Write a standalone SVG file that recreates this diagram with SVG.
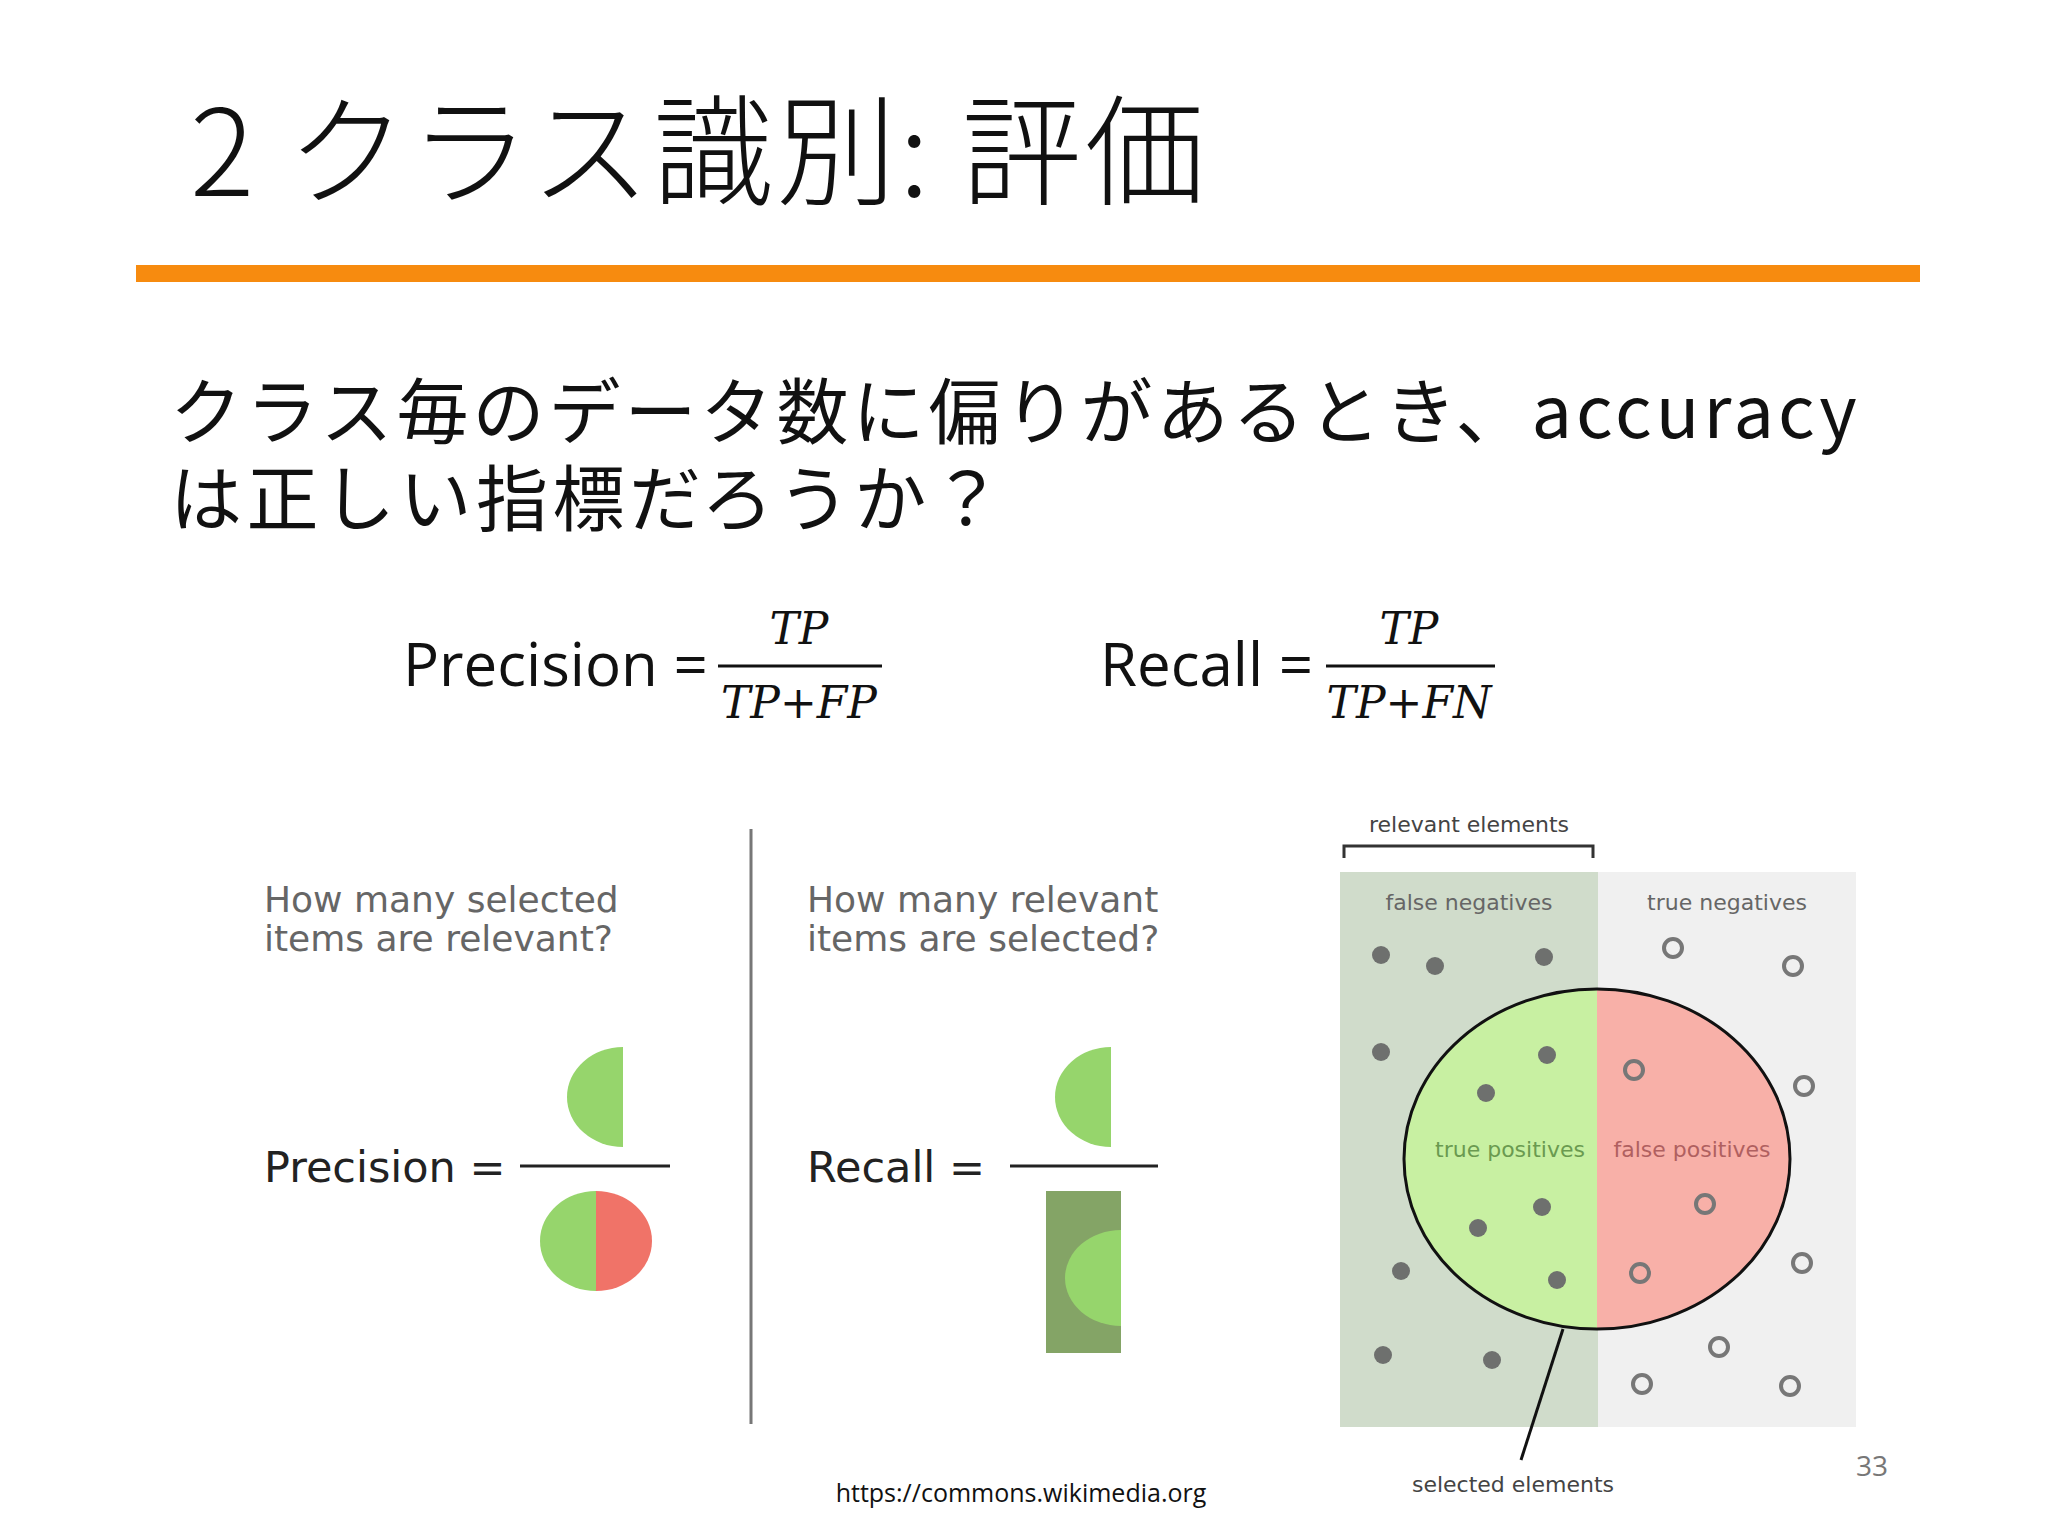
<svg xmlns="http://www.w3.org/2000/svg" width="2048" height="1536" viewBox="0 0 2048 1536">
<style>
.jp{font-family:"Noto Sans CJK JP","Noto Sans",sans-serif;fill:#111}
.s{font-family:"DejaVu Sans",sans-serif;fill:#666}
.m{font-family:"DejaVu Serif",serif;font-style:italic;font-size:44px;fill:#111;text-anchor:middle}
.f{font-family:"Open Sans","Noto Sans",sans-serif;fill:#111}
.fd{fill:#6e706e}
.od{fill:none;stroke:#777;stroke-width:4}
</style>
<rect width="2048" height="1536" fill="#fff"/>
<g id="title"><text class="jp" x="190" y="196" font-size="120" font-weight="300" letter-spacing="3">2 クラス識別: 評価</text></g>
<rect x="136" y="265" width="1784" height="17" fill="#f78b0f"/>
<g id="question">
<text class="jp" x="170" y="438" font-size="72" letter-spacing="4">クラス毎のデータ数に偏りがあるとき、accuracy</text>
<text class="jp" x="170" y="525" font-size="72" letter-spacing="4.5">は正しい指標だろうか？</text>
</g>
<g id="formulas">
<text class="f" x="403" y="686" font-size="60">Precision =</text>
<text class="m" x="799" y="644">TP</text>
<line x1="718" y1="666" x2="882" y2="666" stroke="#111" stroke-width="3"/>
<text class="m" x="799" y="718">TP+FP</text>
<text class="f" x="1100" y="686" font-size="60">Recall =</text>
<text class="m" x="1409" y="644">TP</text>
<line x1="1326" y1="666" x2="1495" y2="666" stroke="#111" stroke-width="3"/>
<text class="m" x="1409" y="718">TP+FN</text>
</g>
<g id="precision-panel">
<text class="s" x="264" y="912" font-size="36">How many selected</text>
<text class="s" x="264" y="951" font-size="36">items are relevant?</text>
<text class="s" x="264" y="1182" font-size="43" style="fill:#222">Precision =</text>
<line x1="520" y1="1166" x2="670" y2="1166" stroke="#222" stroke-width="3"/>
<path d="M623,1047 A56,50 0 0 0 623,1147 Z" fill="#96d56c"/>
<path d="M596,1191 A56,50 0 0 0 596,1291 Z" fill="#96d56c"/>
<path d="M596,1191 A56,50 0 0 1 596,1291 Z" fill="#f07368"/>
</g>
<line x1="751" y1="829" x2="751" y2="1424" stroke="#777" stroke-width="3"/>
<g id="recall-panel">
<text class="s" x="807" y="912" font-size="36">How many relevant</text>
<text class="s" x="807" y="951" font-size="36">items are selected?</text>
<text class="s" x="807" y="1182" font-size="43" style="fill:#222">Recall =</text>
<line x1="1010" y1="1166" x2="1158" y2="1166" stroke="#222" stroke-width="3"/>
<path d="M1111,1047 A56,50 0 0 0 1111,1147 Z" fill="#96d56c"/>
<rect x="1046" y="1191" width="75" height="162" fill="#84a466"/>
<path d="M1121,1230 A56,48 0 0 0 1121,1326 Z" fill="#96d56c"/>
</g>
<g id="venn">
<text class="s" x="1469" y="832" font-size="22" text-anchor="middle" style="fill:#444">relevant elements</text>
<path d="M1344,858 V846 H1593 V858" fill="none" stroke="#333" stroke-width="3"/>
<rect x="1340" y="872" width="258" height="555" fill="#d0dccb"/>
<rect x="1598" y="872" width="258" height="555" fill="#f0f0f0"/>
<text class="s" x="1469" y="910" font-size="22" text-anchor="middle">false negatives</text>
<text class="s" x="1727" y="910" font-size="22" text-anchor="middle">true negatives</text>
<path d="M1597,989 A193,170 0 0 0 1597,1329 Z" fill="#c8f0a2"/>
<path d="M1597,989 A193,170 0 0 1 1597,1329 Z" fill="#f8b0a8"/>
<ellipse cx="1597" cy="1159" rx="193" ry="170" fill="none" stroke="#111" stroke-width="3"/>
<text class="s" x="1510" y="1157" font-size="22" text-anchor="middle" style="fill:#6a9a50">true positives</text>
<text class="s" x="1692" y="1157" font-size="22" text-anchor="middle" style="fill:#b06060">false positives</text>
<g class="fd">
<circle cx="1381" cy="955" r="9"/><circle cx="1435" cy="966" r="9"/><circle cx="1544" cy="957" r="9"/>
<circle cx="1381" cy="1052" r="9"/><circle cx="1547" cy="1055" r="9"/><circle cx="1486" cy="1093" r="9"/>
<circle cx="1542" cy="1207" r="9"/><circle cx="1478" cy="1228" r="9"/><circle cx="1401" cy="1271" r="9"/>
<circle cx="1557" cy="1280" r="9"/><circle cx="1383" cy="1355" r="9"/><circle cx="1492" cy="1360" r="9"/>
</g>
<g class="od">
<circle cx="1673" cy="948" r="9"/><circle cx="1793" cy="966" r="9"/><circle cx="1634" cy="1070" r="9"/>
<circle cx="1804" cy="1086" r="9"/><circle cx="1705" cy="1204" r="9"/><circle cx="1640" cy="1273" r="9"/>
<circle cx="1802" cy="1263" r="9"/><circle cx="1719" cy="1347" r="9"/><circle cx="1642" cy="1384" r="9"/>
<circle cx="1790" cy="1386" r="9"/>
</g>
<line x1="1563" y1="1329" x2="1521" y2="1460" stroke="#111" stroke-width="3"/>
<text class="s" x="1513" y="1492" font-size="22" text-anchor="middle" style="fill:#444">selected elements</text>
</g>
<text class="f" x="1872" y="1476" font-size="28" text-anchor="middle" style="fill:#777">33</text>
<text class="f" x="1021" y="1502" font-size="25" text-anchor="middle">https://commons.wikimedia.org</text>
</svg>
